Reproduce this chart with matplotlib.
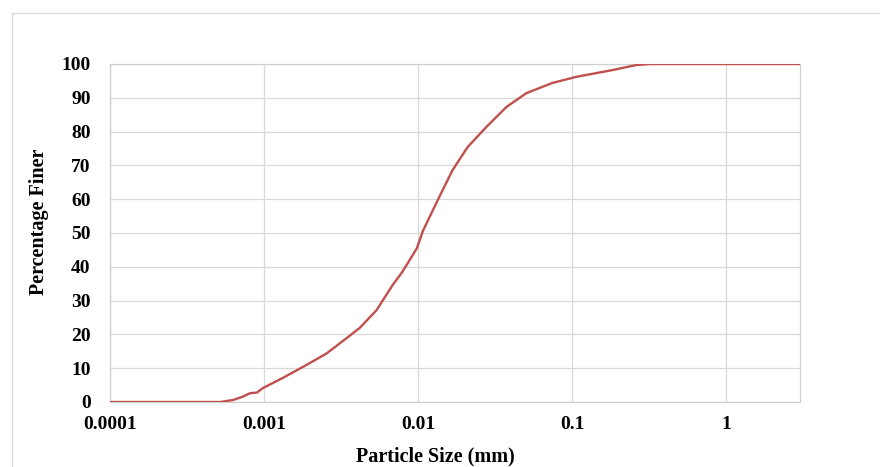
import matplotlib
matplotlib.use("Agg")
import matplotlib.pyplot as plt
from matplotlib.lines import Line2D
from matplotlib.ticker import FixedLocator, FixedFormatter, NullLocator

# Grain size distribution (hydrometer + sieve)
particle_size_mm = [0.0001, 0.00052, 0.00063, 0.00073, 0.00081, 0.0009, 0.00098,
                    0.00132, 0.00189, 0.00255, 0.00343, 0.00417, 0.00537, 0.00682,
                    0.0078, 0.0084, 0.0098, 0.0107, 0.0134, 0.0167, 0.0209, 0.0277,
                    0.0374, 0.0504, 0.0743, 0.106, 0.182, 0.26, 0.32, 3.0]
percent_finer = [0, 0, 0.6, 1.6, 2.6, 2.8, 4.1,
                 7.1, 11, 14.4, 18.9, 21.9, 27.2, 34.6,
                 38.2, 40.5, 45.5, 50.5, 59.8, 68.6, 75.4, 81.4,
                 87.3, 91.4, 94.4, 96.2, 98.2, 99.7, 100, 100]

x_ticks = [0.0001, 0.001, 0.01, 0.1, 1]
x_tick_labels = ["0.0001", "0.001", "0.01", "0.1", "1"]
y_ticks = [0, 10, 20, 30, 40, 50, 60, 70, 80, 90, 100]

plt.rcParams["font.family"] = ["Liberation Serif", "DejaVu Serif"]

fig = plt.figure(figsize=(8.8, 4.67), dpi=100)
ax = fig.add_axes([110 / 880, 65 / 467, 690 / 880, 338 / 467])

ax.plot(particle_size_mm, percent_finer, color="#c0504d", linewidth=1.7,
        solid_joinstyle="round", solid_capstyle="round", zorder=3)

ax.set_xscale("log")
ax.set_xlim(0.0001, 3.0)
ax.set_ylim(0, 100)

ax.xaxis.set_major_locator(FixedLocator(x_ticks))
ax.xaxis.set_major_formatter(FixedFormatter(x_tick_labels))
ax.xaxis.set_minor_locator(NullLocator())
ax.set_yticks(y_ticks)

ax.grid(True, which="major", color="#d9d9d9", linewidth=0.9)
ax.set_axisbelow(True)
for side in ax.spines.values():
    side.set_color("#d0d0d0")
    side.set_linewidth(0.9)

ax.tick_params(axis="both", length=0, labelsize=14)
ax.tick_params(axis="x", pad=10)
ax.tick_params(axis="y", pad=14)
for lbl in ax.get_xticklabels() + ax.get_yticklabels():
    lbl.set_fontweight("bold")

ax.set_xlabel("Particle Size (mm)", fontsize=14.5, fontweight="bold")
ax.set_ylabel("Percentage Finer", fontsize=14.5, fontweight="bold")
ax.xaxis.set_label_coords(325 / 690, -44 / 338)
ax.yaxis.set_label_coords(-61 / 690, 180 / 338)

# outer chart frame (left and top edges)
fig.add_artist(Line2D([12 / 880, 12 / 880], [0, 1 - 13 / 467],
                      transform=fig.transFigure, color="#d9d9d9", linewidth=0.9))
fig.add_artist(Line2D([12 / 880, 1], [1 - 13 / 467, 1 - 13 / 467],
                      transform=fig.transFigure, color="#d9d9d9", linewidth=0.9))

fig.savefig("out.png", dpi=100, facecolor="white")
